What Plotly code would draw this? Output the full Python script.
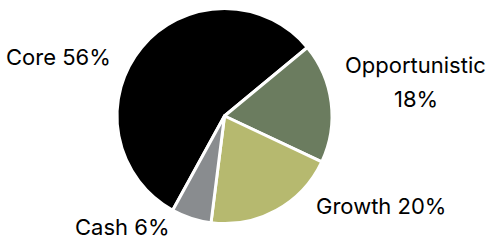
import plotly.graph_objects as go

categories = ["Core", "Opportunistic", "Growth", "Cash"]
values = [56, 18, 20, 6]
colors = ["#000000", "#6b7c5f", "#b6b96f", "#898c8f"]

fig = go.Figure(go.Pie(
    labels=categories,
    values=values,
    sort=False,
    direction="clockwise",
    rotation=208.8,
    marker=dict(colors=colors, line=dict(color="white", width=3)),
    textinfo="none",
    hoverinfo="label+percent",
    showlegend=False,
    domain=dict(x=[117/492, 332/492], y=[1-223.5/241, 1-8.5/241]),
))

FONT = dict(family="Inter, 'Noto Sans', sans-serif", size=22, color="#000000")
total = sum(values)
pct = {c: f"{round(v*100/total)}%" for c, v in zip(categories, values)}

# label placement (paper coords from pixel positions)
ann = [
    (f"Core {pct['Core']}", 58, 57),
    ("Opportunistic", 415, 65),
    (pct["Opportunistic"], 416, 99),
    (f"Growth {pct['Growth']}", 381, 206),
    (f"Cash {pct['Cash']}", 122, 227),
]
for text, px, py in ann:
    fig.add_annotation(text=text, x=px/492, y=1-py/241, xref="paper", yref="paper",
                       showarrow=False, font=FONT, xanchor="center", yanchor="middle")

fig.update_layout(width=492, height=241, margin=dict(l=0, r=0, t=0, b=0),
                  paper_bgcolor="white", plot_bgcolor="white")
fig.write_html("out.html", config={"displayModeBar": False},
               post_script="document.body.style.margin='0';document.body.style.overflow='hidden';")
